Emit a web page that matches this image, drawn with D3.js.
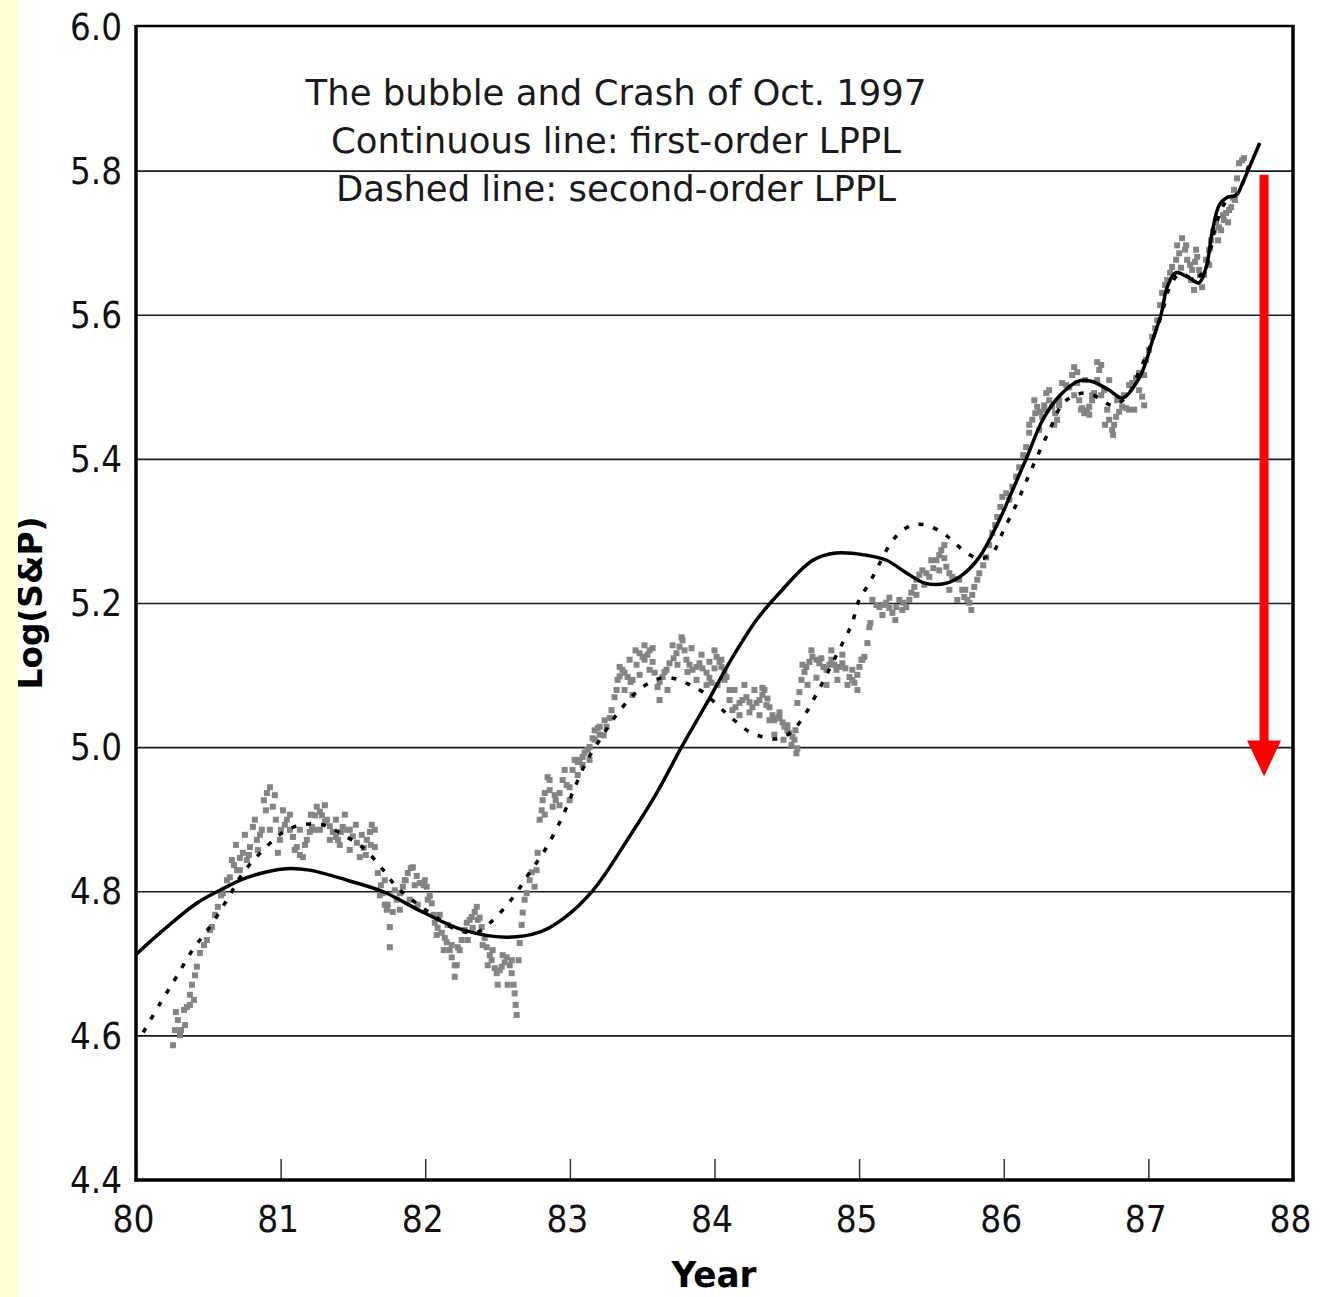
<!DOCTYPE html>
<html>
<head>
<meta charset="utf-8">
<script src="https://cdn.jsdelivr.net/npm/d3@7"></script>
<style>
  html, body { margin: 0; padding: 0; background: #ffffff; }
  svg { display: block; }
</style>
</head>
<body>
<svg id="chart" width="1320" height="1297"></svg>
<script>
// Axis ticks
const yearTicks = [80, 81, 82, 83, 84, 85, 86, 87, 88];
const logTicks = [4.4, 4.6, 4.8, 5.0, 5.2, 5.4, 5.6, 5.8, 6.0];
const gridValues = [4.6, 4.8, 5.0, 5.2, 5.4, 5.6, 5.8];

// Annotation text
const titleLines = [
  "The bubble and Crash of Oct. 1997",
  "Continuous line: first-order LPPL",
  "Dashed line: second-order LPPL"
];
const xLabel = "Year";
const yLabel = "Log(S&P)";

// Crash arrow: year, top value, tip value
const arrowYear = 87.8;
const arrowFrom = 5.795;
const arrowTo = 4.96;

// Daily log S&P 500 observations, [year, log value]
const spData = [
[80.256,4.587],[80.269,4.608],[80.290,4.622],[80.311,4.608],[80.332,4.636],[80.352,4.640],[80.373,4.657],[80.387,4.671],
[80.408,4.684],[80.421,4.696],[80.442,4.715],[80.470,4.726],[80.490,4.733],[80.511,4.747],[80.525,4.751],[80.546,4.768],
[80.566,4.779],[80.587,4.795],[80.601,4.798],[80.629,4.816],[80.649,4.820],[80.677,4.837],[80.698,4.830],[80.718,4.847],
[80.739,4.854],[80.767,4.844],[80.788,4.862],[80.808,4.890],[80.836,4.872],[80.857,4.879],[80.884,4.927],[80.905,4.937],
[80.926,4.945],[80.946,4.918],[80.967,4.900],[80.981,4.854],[81.002,4.886],[81.016,4.913],[81.043,4.900],[81.064,4.886],
[81.085,4.876],[81.112,4.862],[81.133,4.851],[81.154,4.848],[81.181,4.872],[81.202,4.883],[81.216,4.890],[81.237,4.906],
[81.250,4.918],[81.271,4.911],[81.285,4.906],[81.306,4.897],[81.320,4.900],[81.340,4.891],[81.361,4.883],[81.382,4.876],
[81.396,4.872],[81.416,4.883],[81.430,4.890],[81.458,4.886],[81.478,4.886],[81.499,4.877],[81.527,4.868],[81.547,4.848],
[81.575,4.861],[81.596,4.872],[81.617,4.883],[81.630,4.893],[81.651,4.862],[81.672,4.826],[81.693,4.809],[81.706,4.798],
[81.720,4.782],[81.734,4.775],[81.755,4.751],[81.755,4.723],[81.775,4.772],[81.803,4.789],[81.824,4.798],[81.845,4.807],
[81.865,4.816],[81.879,4.826],[81.900,4.833],[81.914,4.834],[81.941,4.822],[81.962,4.812],[81.990,4.809],[82.010,4.807],
[82.031,4.794],[82.045,4.784],[82.059,4.768],[82.066,4.757],[82.086,4.750],[82.114,4.743],[82.135,4.736],[82.148,4.730],
[82.169,4.719],[82.183,4.709],[82.204,4.682],[82.218,4.698],[82.225,4.723],[82.252,4.733],[82.273,4.747],[82.287,4.757],
[82.307,4.761],[82.321,4.765],[82.342,4.772],[82.356,4.779],[82.376,4.764],[82.390,4.751],[82.411,4.736],[82.425,4.723],
[82.446,4.712],[82.459,4.705],[82.480,4.694],[82.494,4.687],[82.515,4.691],[82.529,4.696],[82.549,4.702],[82.563,4.709],
[82.584,4.698],[82.598,4.687],[82.611,4.671],[82.618,4.659],[82.625,4.643],[82.632,4.629],[82.646,4.705],[82.653,4.729],
[82.667,4.754],[82.674,4.771],[82.687,4.789],[82.701,4.798],[82.722,4.816],[82.736,4.827],[82.756,4.807],[82.770,4.830],
[82.777,4.854],[82.791,4.900],[82.805,4.913],[82.812,4.927],[82.826,4.937],[82.846,4.959],[82.860,4.941],[82.881,4.918],
[82.902,4.927],[82.929,4.937],[82.950,4.955],[82.978,4.948],[82.998,4.945],[83.019,4.969],[83.033,4.983],[83.054,4.980],
[83.067,4.983],[83.088,4.987],[83.102,4.993],[83.123,4.997],[83.136,5.001],[83.157,5.013],[83.171,5.024],[83.192,5.027],
[83.206,5.029],[83.233,5.017],[83.254,5.029],[83.275,5.041],[83.288,5.052],[83.309,5.070],[83.330,5.094],[83.344,5.099],
[83.364,5.108],[83.378,5.104],[83.399,5.098],[83.420,5.091],[83.434,5.094],[83.461,5.115],[83.482,5.131],[83.503,5.126],
[83.516,5.122],[83.537,5.129],[83.551,5.135],[83.572,5.119],[83.586,5.104],[83.606,5.084],[83.620,5.091],[83.641,5.098],
[83.668,5.108],[83.689,5.117],[83.717,5.124],[83.737,5.131],[83.758,5.140],[83.779,5.149],[83.793,5.135],[83.806,5.122],
[83.827,5.115],[83.848,5.108],[83.876,5.112],[83.896,5.117],[83.917,5.110],[83.945,5.104],[83.965,5.097],[83.979,5.090],
[84.000,5.110],[84.014,5.126],[84.035,5.119],[84.048,5.112],[84.069,5.105],[84.083,5.098],[84.104,5.080],[84.124,5.052],
[84.145,5.056],[84.173,5.062],[84.193,5.066],[84.221,5.070],[84.242,5.063],[84.262,5.056],[84.290,5.062],[84.311,5.066],
[84.331,5.073],[84.345,5.080],[84.366,5.068],[84.380,5.056],[84.401,5.045],[84.414,5.038],[84.435,5.041],[84.449,5.042],
[84.470,5.035],[84.484,5.029],[84.504,5.024],[84.518,5.020],[84.539,5.015],[84.553,5.011],[84.566,4.992],[84.573,5.062],
[84.587,5.077],[84.601,5.094],[84.622,5.105],[84.635,5.112],[84.656,5.119],[84.677,5.126],[84.705,5.122],[84.725,5.117],
[84.753,5.112],[84.774,5.108],[84.794,5.115],[84.808,5.122],[84.829,5.115],[84.843,5.108],[84.864,5.112],[84.884,5.117],
[84.905,5.110],[84.933,5.098],[84.953,5.094],[84.967,5.090],[84.988,5.101],[85.002,5.112],[85.022,5.122],[85.036,5.126],
[85.057,5.145],[85.071,5.167],[85.078,5.173],[85.092,5.205],[85.119,5.198],[85.140,5.195],[85.168,5.198],[85.188,5.201],
[85.209,5.194],[85.230,5.187],[85.257,5.195],[85.278,5.205],[85.306,5.201],[85.326,5.195],[85.347,5.205],[85.361,5.215],
[85.382,5.223],[85.396,5.233],[85.416,5.240],[85.437,5.246],[85.465,5.242],[85.485,5.237],[85.513,5.249],[85.534,5.260],
[85.554,5.267],[85.568,5.274],[85.589,5.263],[85.603,5.251],[85.624,5.242],[85.644,5.237],[85.672,5.234],[85.692,5.233],
[85.713,5.219],[85.727,5.209],[85.748,5.205],[85.762,5.201],[85.782,5.212],[85.796,5.223],[85.817,5.233],[85.831,5.242],
[85.858,5.253],[85.879,5.264],[85.900,5.281],[85.921,5.298],[85.941,5.309],[85.955,5.320],[85.976,5.334],[85.990,5.348],
[86.017,5.353],[86.038,5.344],[86.059,5.362],[86.086,5.376],[86.107,5.389],[86.135,5.406],[86.155,5.417],[86.176,5.437],
[86.197,5.455],[86.218,5.464],[86.231,5.473],[86.252,5.466],[86.266,5.459],[86.280,5.475],[86.294,5.492],[86.314,5.482],
[86.335,5.473],[86.356,5.464],[86.369,5.455],[86.383,5.482],[86.404,5.506],[86.432,5.503],[86.453,5.500],[86.473,5.517],
[86.487,5.528],[86.508,5.506],[86.522,5.482],[86.542,5.471],[86.556,5.464],[86.577,5.468],[86.591,5.473],[86.611,5.482],
[86.625,5.492],[86.646,5.510],[86.660,5.524],[86.674,5.531],[86.694,5.496],[86.715,5.469],[86.729,5.455],[86.750,5.441],
[86.763,5.448],[86.777,5.459],[86.798,5.466],[86.819,5.473],[86.846,5.471],[86.867,5.469],[86.888,5.506],[86.915,5.513],
[86.936,5.520],[86.957,5.487],[86.971,5.517],[86.984,5.538],[87.005,5.552],[87.026,5.570],[87.047,5.582],[87.061,5.593],
[87.081,5.614],[87.095,5.631],[87.116,5.642],[87.130,5.649],[87.150,5.659],[87.164,5.667],[87.192,5.677],[87.213,5.686],
[87.233,5.707],[87.254,5.691],[87.268,5.677],[87.289,5.670],[87.303,5.663],[87.323,5.674],[87.337,5.681],[87.351,5.663],
[87.371,5.639],[87.385,5.656],[87.399,5.677],[87.420,5.691],[87.434,5.704],[87.454,5.718],[87.468,5.728],[87.489,5.722],
[87.503,5.718],[87.523,5.732],[87.537,5.742],[87.558,5.746],[87.572,5.750],[87.585,5.763],[87.592,5.774],[87.613,5.790],
[87.627,5.811],[87.648,5.815],[87.661,5.818],
// further days within the same clusters
[80.276,4.633],[80.304,4.601],[80.339,4.615],[80.373,4.643],[80.401,4.650],[80.663,4.844],[80.691,4.865],[80.718,4.830],
[80.753,4.879],[80.781,4.851],[80.822,4.900],[80.843,4.858],[80.870,4.886],[80.898,4.913],[80.926,4.886],[80.960,4.934],
[80.995,4.872],[81.029,4.893],[81.064,4.907],[81.098,4.858],[81.133,4.886],[81.168,4.865],[81.209,4.907],[81.237,4.886],
[81.271,4.886],[81.306,4.920],[81.340,4.872],[81.382,4.900],[81.409,4.865],[81.444,4.907],[81.478,4.858],[81.520,4.893],
[81.561,4.879],[81.589,4.851],[81.623,4.865],[81.651,4.886],[81.686,4.795],[81.720,4.816],[81.741,4.782],[81.789,4.802],
[81.824,4.775],[81.858,4.816],[81.893,4.789],[81.927,4.809],[81.948,4.782],[81.997,4.816],[82.017,4.789],[82.079,4.740],
[82.100,4.768],[82.128,4.719],[82.155,4.754],[82.183,4.726],[82.204,4.698],[82.238,4.719],[82.294,4.733],[82.328,4.750],
[82.363,4.761],[82.397,4.726],[82.432,4.698],[82.466,4.719],[82.501,4.671],[82.535,4.712],[82.570,4.671],[82.598,4.705],
[82.826,4.907],[82.860,4.955],[82.895,4.934],[82.929,4.920],[82.964,4.969],[82.998,4.927],[83.054,4.962],[83.088,4.976],
[83.136,4.983],[83.171,5.011],[83.206,5.018],[83.240,5.038],[83.323,5.080],[83.344,5.112],[83.378,5.080],[83.413,5.122],
[83.433,5.073],[83.454,5.135],[83.482,5.101],[83.516,5.142],[83.551,5.108],[83.572,5.138],[83.620,5.066],[83.654,5.105],
[83.675,5.080],[83.710,5.142],[83.744,5.115],[83.772,5.153],[83.813,5.105],[83.841,5.138],[83.876,5.094],[83.910,5.129],
[83.945,5.087],[83.965,5.119],[84.000,5.135],[84.021,5.087],[84.048,5.122],[84.069,5.094],[84.104,5.066],[84.138,5.080],
[84.173,5.045],[84.207,5.087],[84.242,5.049],[84.276,5.080],[84.311,5.045],[84.331,5.083],[84.359,5.059],[84.380,5.038],
[84.414,5.018],[84.449,5.049],[84.477,5.011],[84.504,5.031],[84.532,5.004],[84.560,5.024],[84.573,4.999],[84.608,5.115],
[84.643,5.087],[84.670,5.135],[84.705,5.097],[84.739,5.124],[84.774,5.087],[84.808,5.135],[84.850,5.094],[84.884,5.129],
[84.919,5.087],[84.953,5.108],[84.988,5.080],[85.016,5.122],[85.161,5.184],[85.209,5.208],[85.250,5.177],[85.299,5.191],
[85.396,5.212],[85.451,5.226],[85.499,5.260],[85.554,5.246],[85.589,5.281],[85.624,5.219],[85.679,5.205],[85.734,5.219],
[85.776,5.191],[86.176,5.448],[86.211,5.482],[86.245,5.441],[86.280,5.469],[86.314,5.496],[86.349,5.448],[86.383,5.475],
[86.487,5.489],[86.508,5.521],[86.535,5.469],[86.563,5.510],[86.591,5.462],[86.611,5.489],[86.646,5.535],[86.674,5.489],
[86.701,5.448],[86.729,5.510],[86.756,5.434],[86.784,5.482],[86.832,5.489],[86.867,5.503],[86.902,5.469],[86.936,5.496],
[86.971,5.475],[87.199,5.697],[87.226,5.666],[87.261,5.697],[87.295,5.649],[87.330,5.691],[87.357,5.656],[87.316,5.635],
[87.420,5.670],[87.447,5.716],[87.482,5.704],[87.516,5.739],[87.551,5.729],[87.599,5.760]
];

// First-order LPPL fit, [year, log value]
const firstOrderFit = [
[80.00,4.713],[80.19,4.747],[80.42,4.784],[80.58,4.802],[80.77,4.820],[81.04,4.832],[81.20,4.830],[81.46,4.816],
[81.71,4.800],[81.98,4.772],[82.26,4.747],[82.56,4.737],[82.79,4.744],[82.95,4.762],[83.16,4.802],[83.41,4.876],
[83.60,4.937],[83.77,5.000],[83.97,5.070],[84.10,5.117],[84.29,5.177],[84.45,5.215],[84.68,5.260],[84.84,5.270],
[85.05,5.267],[85.19,5.260],[85.33,5.242],[85.46,5.228],[85.60,5.228],[85.71,5.239],[85.83,5.264],[85.97,5.316],
[86.06,5.357],[86.16,5.403],[86.27,5.455],[86.38,5.487],[86.52,5.509],[86.61,5.508],[86.73,5.496],[86.82,5.485],
[86.94,5.514],[87.03,5.566],[87.09,5.603],[87.13,5.639],[87.19,5.659],[87.28,5.652],[87.35,5.645],[87.40,5.667],
[87.44,5.714],[87.49,5.753],[87.54,5.763],[87.61,5.767],[87.65,5.783],[87.70,5.806],[87.77,5.839]
];

// Second-order LPPL fit, [year, log value]
const secondOrderFit = [
[80.05,4.605],[80.17,4.646],[80.28,4.682],[80.39,4.719],[80.51,4.751],[80.63,4.789],[80.74,4.826],[80.88,4.858],
[81.02,4.883],[81.15,4.893],[81.29,4.893],[81.43,4.879],[81.57,4.861],[81.71,4.830],[81.80,4.807],[81.94,4.784],
[82.08,4.764],[82.22,4.747],[82.36,4.744],[82.47,4.761],[82.61,4.793],[82.72,4.826],[82.84,4.862],[82.95,4.905],
[83.02,4.938],[83.11,4.979],[83.22,5.015],[83.32,5.045],[83.46,5.077],[83.55,5.090],[83.64,5.097],[83.74,5.095],
[83.83,5.087],[83.92,5.077],[84.08,5.048],[84.24,5.022],[84.33,5.015],[84.43,5.012],[84.52,5.020],[84.60,5.038],
[84.71,5.076],[84.85,5.131],[84.95,5.172],[85.00,5.205],[85.07,5.228],[85.13,5.251],[85.21,5.281],[85.28,5.298],
[85.37,5.309],[85.46,5.309],[85.57,5.299],[85.64,5.288],[85.72,5.274],[85.83,5.262],[85.92,5.270],[86.00,5.302],
[86.09,5.339],[86.15,5.367],[86.22,5.399],[86.31,5.438],[86.40,5.475],[86.47,5.487],[86.57,5.492],[86.66,5.485],
[86.75,5.475],[86.85,5.487],[86.94,5.524],[87.01,5.556],[87.09,5.600],[87.15,5.640],[87.22,5.658],[87.32,5.650],
[87.40,5.668],[87.46,5.720],[87.53,5.756],[87.62,5.770],[87.70,5.812]
];

const svg = d3.select("#chart");
const W = 1320, H = 1297;
const plot = { left: 136, right: 1293, top: 27, bottom: 1180 };
const FONT = "'DejaVu Sans', Verdana, sans-serif";

const x = d3.scaleLinear().domain([80, 88]).range([plot.left, plot.right]);
const y = d3.scaleLinear().domain([4.4, 6.0]).range([plot.bottom, plot.top]);

svg.append("rect").attr("width", W).attr("height", H).attr("fill", "#ffffff");

// Horizontal grid lines
svg.append("g").selectAll("line").data(gridValues).join("line")
  .attr("x1", plot.left).attr("x2", plot.right)
  .attr("y1", d => y(d)).attr("y2", d => y(d))
  .attr("stroke", "#1a1a1a").attr("stroke-width", 1.7);

// Observations as small grey squares
const sq = 6;
svg.append("g").selectAll("rect").data(spData).join("rect")
  .attr("x", d => x(d[0]) - sq / 2).attr("y", d => y(d[1]) - sq / 2)
  .attr("width", sq).attr("height", sq)
  .attr("fill", "#848484");

const line = d3.line()
  .x(d => x(d[0])).y(d => y(d[1]))
  .curve(d3.curveCatmullRom.alpha(0.5));

// Second-order fit: dashed
svg.append("path").datum(secondOrderFit)
  .attr("d", line).attr("fill", "none")
  .attr("stroke", "#000").attr("stroke-width", 3.5)
  .attr("stroke-dasharray", "5,10");

// First-order fit: continuous
svg.append("path").datum(firstOrderFit)
  .attr("d", line).attr("fill", "none")
  .attr("stroke", "#000").attr("stroke-width", 3.5)
  .attr("stroke-linejoin", "round");

// Crash arrow
const ax = x(arrowYear);
const headBase = y(arrowTo) - 36;
svg.append("rect")
  .attr("x", ax - 4.5).attr("y", y(arrowFrom))
  .attr("width", 9).attr("height", headBase - y(arrowFrom) + 2)
  .attr("fill", "#ff0000");
svg.append("path")
  .attr("d", `M${ax - 17},${headBase} L${ax + 17},${headBase} L${ax},${y(arrowTo)} Z`)
  .attr("fill", "#ff0000");

// X axis with inward ticks
const xAxis = d3.axisBottom(x).tickValues(yearTicks)
  .tickSizeInner(-21).tickSizeOuter(0).tickPadding(25)
  .tickFormat(d3.format("d"));
const gx = svg.append("g").attr("transform", `translate(0,${plot.bottom})`).call(xAxis);
gx.select(".domain").remove();
gx.selectAll(".tick line").attr("stroke", "#333").attr("stroke-width", 1.5);
gx.selectAll(".tick text")
  .attr("font-family", FONT).attr("font-size", 38).attr("fill", "#111")
  .attr("dx", -3)
  .attr("textLength", 42).attr("lengthAdjust", "spacingAndGlyphs");

// Y axis labels
const yAxis = d3.axisLeft(y).tickValues(logTicks)
  .tickSize(0).tickPadding(14).tickFormat(d3.format(".1f"));
const gy = svg.append("g").attr("transform", `translate(${plot.left},0)`).call(yAxis);
gy.select(".domain").remove();
gy.selectAll(".tick text")
  .attr("font-family", FONT).attr("font-size", 38).attr("fill", "#111")
  .attr("textLength", 52).attr("lengthAdjust", "spacingAndGlyphs");

// Plot frame
const frame = svg.append("g").attr("stroke", "#000").attr("fill", "none");
frame.append("line").attr("x1", plot.left).attr("x2", plot.right + 1.5)
  .attr("y1", plot.top - 1).attr("y2", plot.top - 1).attr("stroke-width", 2.5);
frame.append("line").attr("x1", plot.left - 1.5).attr("x2", plot.right + 1.5)
  .attr("y1", plot.bottom).attr("y2", plot.bottom).attr("stroke-width", 3.5);
frame.append("line").attr("x1", plot.left).attr("x2", plot.left)
  .attr("y1", plot.top - 2).attr("y2", plot.bottom + 1.5).attr("stroke-width", 3.5);
frame.append("line").attr("x1", plot.right).attr("x2", plot.right)
  .attr("y1", plot.top - 2).attr("y2", plot.bottom + 1.5).attr("stroke-width", 3.5);

// Title block
const titleWidths = [621, 570, 560];
svg.append("g").selectAll("text").data(titleLines).join("text")
  .attr("x", 616).attr("y", (d, i) => 105 + i * 48)
  .attr("text-anchor", "middle")
  .attr("font-family", FONT).attr("font-size", 35).attr("fill", "#1a1a1a")
  .attr("textLength", (d, i) => titleWidths[i]).attr("lengthAdjust", "spacingAndGlyphs")
  .text(d => d);

// Axis titles
svg.append("text")
  .attr("x", 714).attr("y", 1287).attr("text-anchor", "middle")
  .attr("font-family", FONT).attr("font-weight", "bold").attr("font-size", 35)
  .attr("fill", "#000")
  .attr("textLength", 85).attr("lengthAdjust", "spacingAndGlyphs")
  .text(xLabel);

svg.append("text")
  .attr("transform", "translate(42,603) rotate(-90)")
  .attr("text-anchor", "middle")
  .attr("font-family", FONT).attr("font-weight", "bold").attr("font-size", 33)
  .attr("fill", "#000")
  .attr("textLength", 173).attr("lengthAdjust", "spacingAndGlyphs")
  .text(yLabel);

// Pale yellow strip along the left edge
svg.append("rect").attr("x", 0).attr("y", 0).attr("width", 18).attr("height", H)
  .attr("fill", "#ffffd0");
</script>
</body>
</html>
